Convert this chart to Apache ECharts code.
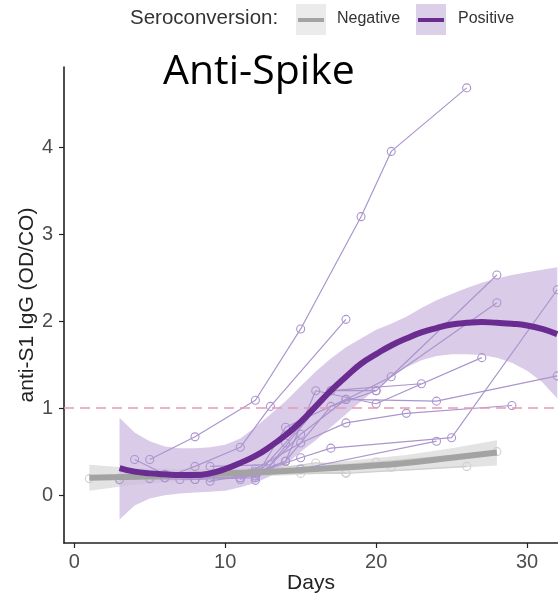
<!DOCTYPE html>
<html>
<head>
<meta charset="utf-8">
<script src="https://cdn.jsdelivr.net/npm/echarts@6/dist/echarts.min.js"></script>
<style>
  html, body { margin: 0; padding: 0; background: #fff; }
  #chart { width: 558px; height: 598px; }
</style>
</head>
<body>
<div id="chart"></div>
<script>
// tick labels
const xTicks = [0, 10, 20, 30]
const yTicks = [0, 1, 2, 3, 4]

// smooth fits (one value per day)
const posDays = [3, 4, 5, 6, 7, 8, 9, 10, 11, 12, 13, 14, 15, 16, 17, 18, 19, 20, 21, 22, 23, 24, 25, 26, 27, 28, 29, 30, 31, 32]
const posFit = [0.31, 0.27, 0.25, 0.24, 0.23, 0.23, 0.25, 0.30, 0.37, 0.45, 0.56, 0.69, 0.84, 1.02, 1.20, 1.36, 1.51, 1.62, 1.72, 1.80, 1.87, 1.92, 1.96, 1.98, 1.99, 1.98, 1.97, 1.95, 1.91, 1.85]
const posUpper = [0.89, 0.72, 0.62, 0.56, 0.54, 0.54, 0.55, 0.58, 0.65, 0.78, 0.93, 1.08, 1.25, 1.42, 1.57, 1.70, 1.80, 1.90, 1.97, 2.05, 2.15, 2.24, 2.31, 2.38, 2.44, 2.49, 2.53, 2.56, 2.59, 2.62]
const posLower = [-0.28, -0.12, -0.04, 0.00, 0.02, 0.03, 0.04, 0.05, 0.09, 0.14, 0.22, 0.35, 0.50, 0.63, 0.78, 0.93, 1.08, 1.22, 1.36, 1.47, 1.55, 1.60, 1.62, 1.62, 1.61, 1.58, 1.52, 1.43, 1.30, 1.11]

const negDays = [1, 4, 7, 10, 13, 16, 19, 22, 25, 28]
const negFit = [0.20, 0.21, 0.23, 0.25, 0.27, 0.30, 0.33, 0.37, 0.43, 0.49]
const negUpper = [0.35, 0.31, 0.30, 0.30, 0.32, 0.36, 0.41, 0.46, 0.54, 0.63]
const negLower = [0.05, 0.12, 0.16, 0.19, 0.22, 0.24, 0.26, 0.28, 0.31, 0.34]

// individual patients, [day, OD/CO]
const positivePatients = [
  [[5, 0.41], [8, 0.67], [12, 1.09], [15, 1.91], [19, 3.2], [21, 3.95], [26, 4.68]],
  [[4, 0.41], [6, 0.24], [9, 0.2], [12, 0.22], [14, 0.6], [17, 1.2], [20, 1.2], [28, 2.53]],
  [[3, 0.18], [6, 0.2], [8, 0.33], [11, 0.55], [13, 1.02], [18, 2.02]],
  [[5, 0.19], [8, 0.18], [12, 0.2], [14, 0.78], [18, 1.1], [21, 1.36], [28, 2.21]],
  [[9, 0.16], [12, 0.25], [15, 0.43], [17, 0.54], [25, 0.66], [32, 2.36]],
  [[11, 0.18], [14, 0.39], [16, 1.2], [20, 1.05], [27, 1.58]],
  [[8, 0.18], [12, 0.3], [15, 0.6], [18, 0.83], [22, 0.94], [29, 1.03]],
  [[9, 0.33], [13, 0.35], [17, 1.2], [23, 1.28]],
  [[12, 0.17], [15, 0.7], [18, 1.1], [24, 1.08], [32, 1.37]],
  [[6, 0.2], [11, 0.2], [14, 0.39], [17, 1.02], [20, 1.2]],
  [[7, 0.18], [12, 0.27], [15, 0.3], [24, 0.62]]
]
const negativePatients = [
  [[1, 0.19], [3, 0.2], [8, 0.22], [15, 0.25], [18, 0.26]],
  [[3, 0.17], [10, 0.22], [16, 0.37], [21, 0.32]],
  [[12, 0.26], [18, 0.25], [26, 0.33]],
  [[14, 0.3], [20, 0.38], [28, 0.5]]
]

const cutoff = 1

const PURPLE = '#6a2c91'
const LINE_PURPLE = '#ab95cd'
const GREY = '#a3a3a3'
const LINE_GREY = '#cfcfcf'
const FONT = '"Liberation Sans", Arial, sans-serif'

const bandSeries = (days, upper, lower, color, opacity) => ({
  type: 'custom',
  clip: true,
  silent: true,
  z: 1,
  data: days.map((d, i) => [d, upper[i], lower[i]]),
  renderItem: (params, api) => {
    if (params.dataIndex !== 0) return null
    const pts = []
    days.forEach((d, i) => pts.push(api.coord([d, upper[i]])))
    for (let i = days.length - 1; i >= 0; i--) pts.push(api.coord([days[i], lower[i]]))
    return {
      type: 'polygon',
      shape: { points: pts, smooth: 0 },
      style: { fill: color, opacity: opacity }
    }
  }
})

const patientSeries = (list, color, z) => list.map(pts => ({
  type: 'line',
  data: pts,
  z: z,
  silent: true,
  symbol: 'circle',
  symbolSize: 8,
  lineStyle: { color: color, width: 1.2 },
  itemStyle: { color: 'rgba(255,255,255,0)', borderColor: color, borderWidth: 1.1 }
}))

const chart = echarts.init(document.getElementById('chart'))
chart.setOption({
  animation: false,
  backgroundColor: '#fff',
  grid: { left: 64, right: 0, top: 67, bottom: 55, outerBoundsMode: 'none' },
  xAxis: {
    type: 'value',
    min: -0.68,
    max: 32.05,
    name: 'Days',
    nameLocation: 'middle',
    nameGap: 30,
    nameMoveOverlap: false,
    nameTextStyle: { fontSize: 21, color: '#222', fontFamily: FONT },
    axisLine: { onZero: false, lineStyle: { color: '#222', width: 1.6 } },
    axisTick: { customValues: xTicks, length: 5, lineStyle: { color: '#222', width: 1.2 } },
    axisLabel: { customValues: xTicks, fontSize: 20, color: '#4d4d4d', fontFamily: FONT, margin: 9 },
    splitLine: { show: false }
  },
  yAxis: {
    type: 'value',
    min: -0.55,
    max: 4.92,
    name: 'anti-S1 IgG (OD/CO)',
    nameLocation: 'middle',
    nameGap: 26,
    nameMoveOverlap: false,
    nameTextStyle: { fontSize: 21, color: '#222', fontFamily: FONT },
    axisLine: { show: true, onZero: false, lineStyle: { color: '#222', width: 1.6 } },
    axisTick: { show: true, customValues: yTicks, length: 5, lineStyle: { color: '#222', width: 1.2 } },
    axisLabel: { customValues: yTicks, fontSize: 20, color: '#4d4d4d', fontFamily: FONT, margin: 11 },
    splitLine: { show: false }
  },
  graphic: [
    { type: 'text', left: 130, top: 8, style: { text: 'Seroconversion:', font: '20.5px ' + FONT, fill: '#333' } },
    { type: 'rect', shape: { x: 296, y: 4, width: 30, height: 31 }, style: { fill: '#ebebeb' } },
    { type: 'line', shape: { x1: 298, y1: 20, x2: 324, y2: 20 }, style: { stroke: GREY, lineWidth: 4 } },
    { type: 'text', left: 337, top: 11, style: { text: 'Negative', font: '16px ' + FONT, fill: '#333' } },
    { type: 'rect', shape: { x: 416, y: 4, width: 30, height: 31 }, style: { fill: '#dcd0e9' } },
    { type: 'line', shape: { x1: 418, y1: 20, x2: 444, y2: 20 }, style: { stroke: PURPLE, lineWidth: 4 } },
    { type: 'text', left: 458, top: 11, style: { text: 'Positive', font: '16px ' + FONT, fill: '#333' } },
    { type: 'text', left: 163, top: 52, style: { text: 'Anti-Spike', font: '41px "Open Sans", sans-serif', fill: '#000' } }
  ],
  series: [
    bandSeries(negDays, negUpper, negLower, '#e3e3e3', 1),
    bandSeries(posDays, posUpper, posLower, '#cdb9e0', 0.75),
    ...patientSeries(negativePatients, LINE_GREY, 3),
    ...patientSeries(positivePatients, LINE_PURPLE, 4),
    {
      type: 'line',
      data: negDays.map((d, i) => [d, negFit[i]]),
      smooth: true,
      symbol: 'none',
      z: 6,
      silent: true,
      lineStyle: { color: GREY, width: 6 },
      markLine: {
        silent: true,
        symbol: 'none',
        label: { show: false },
        lineStyle: { color: '#e699b7', type: [10, 6], width: 1.5 },
        data: [{ yAxis: cutoff }]
      }
    },
    {
      type: 'line',
      data: posDays.map((d, i) => [d, posFit[i]]),
      smooth: true,
      symbol: 'none',
      z: 7,
      silent: true,
      lineStyle: { color: PURPLE, width: 6 }
    }
  ]
})
</script>
</body>
</html>
